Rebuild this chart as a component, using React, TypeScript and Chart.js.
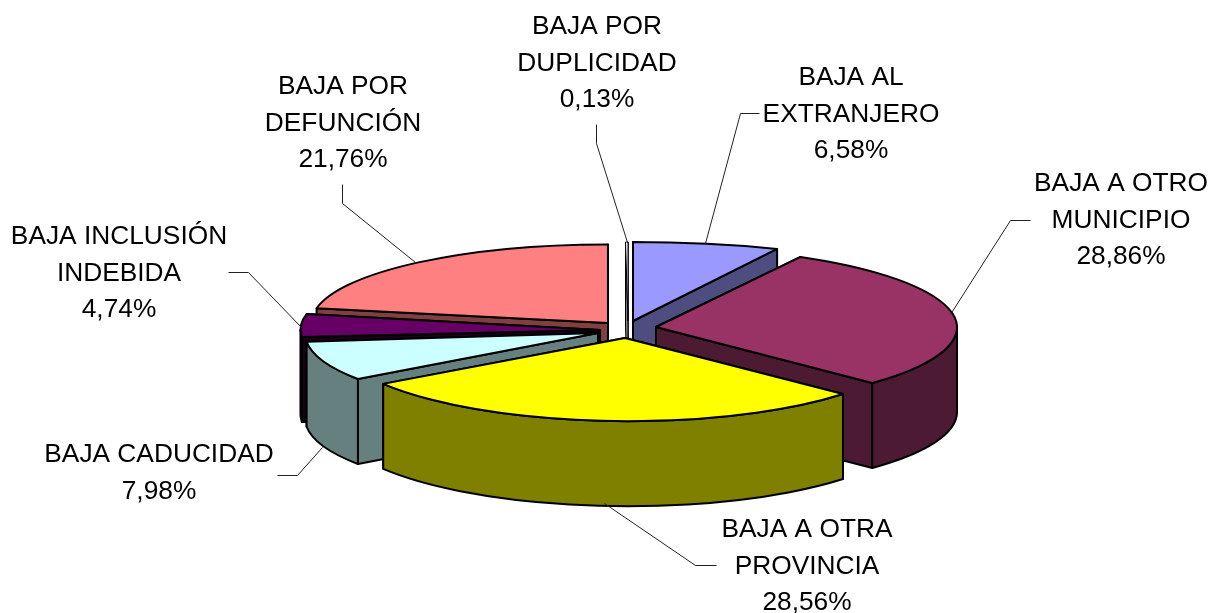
import React, { useEffect, useRef } from "react";
import { Chart, registerables } from "chart.js";

Chart.register(...registerables);

const categories = ["BAJA AL EXTRANJERO", "BAJA A OTRO MUNICIPIO", "BAJA A OTRA PROVINCIA", "BAJA CADUCIDAD", "BAJA INCLUSIÓN INDEBIDA", "BAJA POR DEFUNCIÓN", "BAJA POR DUPLICIDAD"];
const values = [6.58, 28.86, 28.56, 7.98, 4.74, 21.76, 0.13];
const valueLabels = ["6,58%", "28,86%", "28,56%", "7,98%", "4,74%", "21,76%", "0,13%"];
const topColors = ["#9999ff", "#993366", "#ffff00", "#ccffff", "#660066", "#ff8080", "#ffffff"];
const sideColors = ["#4d4d80", "#4d1a33", "#808000", "#668080", "#1a001a", "#804040", "#808080"];
const labelLines = [["BAJA AL", "EXTRANJERO"], ["BAJA A OTRO", "MUNICIPIO"], ["BAJA A OTRA", "PROVINCIA"], ["BAJA CADUCIDAD"], ["BAJA INCLUSIÓN", "INDEBIDA"], ["BAJA POR", "DEFUNCIÓN"], ["BAJA POR", "DUPLICIDAD"]];

const labelCenters = [[851, 78], [1121, 184], [807, 530], [159, 455], [119, 237], [343, 87], [597, 27]];
const leaders = [
  [[759, 113], [740, 113], [705, 243]],
  [[1030, 220], [1010, 220], [950, 314]],
  [[716, 565], [695, 565], [604, 503]],
  [[277, 475], [297, 475], [322, 447]],
  [[228, 272], [248, 272], [301, 327]],
  [[342, 184], [342, 203], [415, 262]],
  [[596, 124], [596, 143], [627, 242]],
];
// where each exploded slice's tip sits, and how its disc is projected onto the page
const sliceTips = [[633, 321], [656, 327], [625, 338], [598, 333], [600, 330], [608, 323], [628, 321]];
const sliceProjection = [
  [1.18, 0.0, 0.0, 0.263],
  [1.0, 0.023, -0.082, 0.266],
  [0.972, 0.014, -0.039, 0.277],
  [0.976, 0.004, -0.024, 0.264],
  [0.998, 0.009, -0.028, 0.255],
  [0.988, 0.003, -0.008, 0.262],
  [1.0, 0.0, 0.0, 0.263],
];
const drawOrder = [0, 6, 5, 4, 1, 3, 2];
const DEPTH = 85;

const pie3d = {
  id: "pie3d",
  beforeDatasetDraw(chart: any, args: any) {
    const { ctx } = chart;
    const arcs = chart.getDatasetMeta(args.index).data;
    ctx.save();
    ctx.strokeStyle = "#000";
    ctx.lineJoin = "round";
    for (const i of drawOrder) {
      ctx.lineWidth = i === 6 ? 1 : 2;
      const el = arcs[i];
      const g = el.getProps(["x", "y", "startAngle", "endAngle", "outerRadius"], true);
      const [tx, ty] = sliceTips[i];
      const [a, b, c, d] = sliceProjection[i];
      const R = g.outerRadius;
      const place = (dy: number) => {
        ctx.translate(tx, ty + dy);
        ctx.transform(a, b, c, d, 0, 0);
      };
      const corner = (ang: number) => {
        const u = Math.cos(ang) * R, v = Math.sin(ang) * R;
        return [tx + a * u + c * v, ty + b * u + d * v];
      };
      const s = corner(g.startAngle);
      const e = corner(g.endAngle);
      ctx.fillStyle = sideColors[i];
      const walls = s[1] < e[1] ? [s, e] : [e, s];
      for (const q of walls) {
        ctx.beginPath();
        ctx.moveTo(tx, ty);
        ctx.lineTo(q[0], q[1]);
        ctx.lineTo(q[0], q[1] + DEPTH);
        ctx.lineTo(tx, ty + DEPTH);
        ctx.closePath();
        ctx.fill();
        ctx.stroke();
      }
      const tangent = Math.atan2(c, a);
      const a0 = Math.max(g.startAngle, tangent);
      const a1 = Math.min(g.endAngle, Math.PI + tangent);
      if (a1 > a0) {
        ctx.beginPath();
        ctx.save(); place(0); ctx.arc(0, 0, R, a0, a1); ctx.restore();
        ctx.save(); place(DEPTH); ctx.arc(0, 0, R, a1, a0, true); ctx.restore();
        ctx.closePath();
        ctx.fill();
        ctx.stroke();
      }
      // top face through the library's own arc element
      ctx.save();
      place(0);
      ctx.translate(-g.x, -g.y);
      el.draw(ctx);
      ctx.restore();
      ctx.beginPath();
      ctx.save(); place(0); ctx.moveTo(0, 0); ctx.arc(0, 0, R, g.startAngle, g.endAngle); ctx.closePath(); ctx.restore();
      ctx.stroke();
    }
    ctx.restore();
    return false;
  },
  afterDraw(chart: any) {
    const { ctx } = chart;
    ctx.save();
    ctx.strokeStyle = "#222";
    ctx.lineWidth = 1;
    leaders.forEach((l) => {
      ctx.beginPath();
      l.forEach((p, j) => (j ? ctx.lineTo(p[0] + 0.5, p[1] + 0.5) : ctx.moveTo(p[0] + 0.5, p[1] + 0.5)));
      ctx.stroke();
    });
    ctx.fillStyle = "#000";
    ctx.font = '26.3px "Liberation Sans"';
    ctx.textAlign = "center";
    ctx.textBaseline = "middle";
    labelLines.forEach((lines, i) => {
      const [x, y] = labelCenters[i];
      [...lines, valueLabels[i]].forEach((t, j) => ctx.fillText(t, x, y + j * 36.6));
    });
    ctx.restore();
  },
};

export default function App() {
  const ref = useRef<HTMLCanvasElement>(null);
  useEffect(() => {
    document.body.style.margin = "0";
    document.body.style.background = "#fff";
    const chart = new Chart(ref.current!, {
      type: "pie",
      data: {
        labels: categories,
        datasets: [{ data: values, backgroundColor: topColors, borderWidth: 0, radius: 300 } as any],
      },
      options: {
        animation: false,
        responsive: false,
        plugins: { legend: { display: false }, tooltip: { enabled: false } },
      },
      plugins: [pie3d as any],
    });
    return () => chart.destroy();
  }, []);
  return <canvas ref={ref} width={1222} height={613} style={{ display: "block" }} />;
}
